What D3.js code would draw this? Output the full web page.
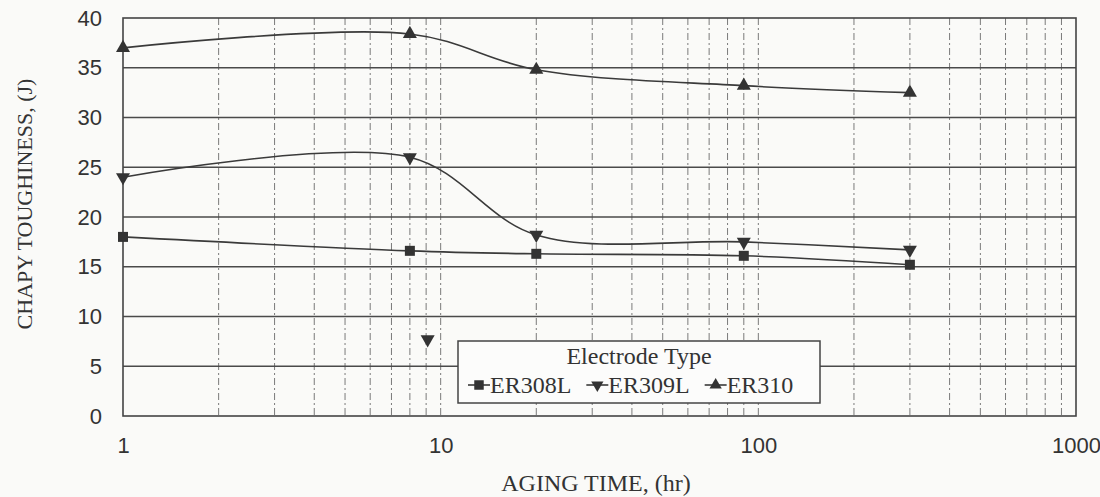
<!DOCTYPE html>
<html>
<head>
<meta charset="UTF-8">
<title>Charpy toughness vs aging time</title>
<style>
    body { margin: 0; background: #fafaf8; }
    svg { display: block; font-family: 'Liberation Serif', 'Times New Roman', serif; }
    .grid-h line { stroke: #4a4a4a; stroke-width: 1.6; }
    .grid-v line { stroke: #7a7a7a; stroke-width: 1; stroke-dasharray: 7,3,2,3; }
    .frame { fill: none; stroke: #444; stroke-width: 1.6; }
    .tick text { fill: #333; font-size: 22px; }
    .series { fill: none; stroke: #3a3a3a; stroke-width: 1.6; }
    .mark { fill: #333; }
    .legend rect { fill: #fcfcfb; stroke: #444; stroke-width: 1.5; }
    .legend text { fill: #333; font-size: 24px; }
    .title { fill: #333; font-size: 22px; }
    .xtitle { font-size: 24px; }
</style>
</head>
<body>
<script src="https://cdn.jsdelivr.net/npm/d3@7"></script>
<script>
    // data
    var agingHours = [1, 8, 20, 90, 300];
    var er308L = [18.0, 16.6, 16.3, 16.1, 15.2];
    var er309L = [24.0, 26.0, 18.2, 17.5, 16.7];
    var er310 = [37.0, 38.4, 34.8, 33.2, 32.5];
    // stray ER309L point plotted with no line
    var er309LExtraX = [9.1];
    var er309LExtraY = [7.7];

    var seriesNames = ["ER308L", "ER309L", "ER310"];
    var seriesValues = [er308L, er309L, er310];
    var seriesShapes = [d3.symbolSquare, "down", d3.symbolTriangle];

    var yTicks = [0, 5, 10, 15, 20, 25, 30, 35, 40];
    var xTicks = [1, 10, 100, 1000];

    var width = 1100, height = 497;
    var margin = { top: 18, right: 24, bottom: 81, left: 123 };
    var w = width - margin.left - margin.right,
        h = height - margin.top - margin.bottom;

    var svg = d3.select("body").append("svg")
        .attr("width", width)
        .attr("height", height);

    var g = svg.append("g")
        .attr("transform", "translate(" + margin.left + "," + margin.top + ")");

    var x = d3.scaleLog().domain([1, 1000]).range([0, w]);
    var y = d3.scaleLinear().domain([0, 40]).range([h, 0]);

    // vertical dashed grid at every log tick
    var minorTicks = x.ticks();
    g.append("g").attr("class", "grid-v")
        .selectAll("line")
        .data(minorTicks.filter(function(d) { return d > 1 && d < 1000; }))
        .enter().append("line")
        .attr("x1", function(d) { return x(d); })
        .attr("x2", function(d) { return x(d); })
        .attr("y1", 0)
        .attr("y2", h);

    // horizontal solid grid
    g.append("g").attr("class", "grid-h")
        .selectAll("line")
        .data(yTicks.filter(function(d) { return d > 0 && d < 40; }))
        .enter().append("line")
        .attr("x1", 0)
        .attr("x2", w)
        .attr("y1", function(d) { return y(d); })
        .attr("y2", function(d) { return y(d); });

    g.append("rect").attr("class", "frame")
        .attr("width", w).attr("height", h);

    // axes (labels only)
    var yAxis = g.append("g")
        .call(d3.axisLeft(y).tickValues(yTicks).tickSize(0).tickPadding(21));
    yAxis.select(".domain").remove();

    var xAxis = g.append("g")
        .attr("transform", "translate(0," + h + ")")
        .call(d3.axisBottom(x).tickValues(xTicks).tickFormat(d3.format("d")).tickSize(0).tickPadding(21));
    xAxis.select(".domain").remove();

    // smooth lines
    var line = d3.line()
        .x(function(d) { return x(d[0]); })
        .y(function(d) { return y(d[1]); })
        .curve(d3.curveCatmullRom.alpha(0.5));

    function symbolPath(shape, size) {
        if (shape === "down") {
            return d3.symbol().type(d3.symbolTriangle).size(size)();
        }
        return d3.symbol().type(shape).size(size)();
    }
    function symbolRotate(shape) {
        return shape === "down" ? " rotate(180)" : "";
    }

    seriesValues.forEach(function(vals, i) {
        var pts = d3.zip(agingHours, vals);
        g.append("path").attr("class", "series").attr("d", line(pts));
        g.selectAll(".m" + i)
            .data(pts)
            .enter().append("path")
            .attr("class", "mark m" + i)
            .attr("d", symbolPath(seriesShapes[i], seriesShapes[i] === d3.symbolSquare ? 100 : 85))
            .attr("transform", function(d) {
                return "translate(" + x(d[0]) + "," + y(d[1]) + ")" + symbolRotate(seriesShapes[i]);
            });
    });

    g.selectAll(".extra")
        .data(d3.zip(er309LExtraX, er309LExtraY))
        .enter().append("path")
        .attr("class", "mark extra")
        .attr("d", symbolPath("down", 85))
        .attr("transform", function(d) {
            return "translate(" + x(d[0]) + "," + y(d[1]) + ") rotate(180)";
        });

    // legend
    var legend = g.append("g").attr("class", "legend")
        .attr("transform", "translate(" + (458 - margin.left) + "," + (341 - margin.top) + ")");
    legend.append("rect").attr("width", 362).attr("height", 62);
    legend.append("text")
        .attr("x", 181).attr("y", 23)
        .attr("text-anchor", "middle")
        .text("Electrode Type");

    var lx = 10;
    seriesNames.forEach(function(name, i) {
        var item = legend.append("g").attr("transform", "translate(" + lx + ",44)");
        item.append("line")
            .attr("x1", 0).attr("x2", 22).attr("y1", 0).attr("y2", 0)
            .attr("stroke", "#3a3a3a").attr("stroke-width", 1.6);
        item.append("path")
            .attr("class", "mark")
            .attr("d", symbolPath(seriesShapes[i], seriesShapes[i] === d3.symbolSquare ? 90 : 65))
            .attr("transform", "translate(11,0)" + symbolRotate(seriesShapes[i]));
        var t = item.append("text")
            .attr("x", 22).attr("y", 8)
            .text(name);
        lx += 22 + t.node().getComputedTextLength() + 15;
    });

    // axis titles
    svg.append("text").attr("class", "title xtitle")
        .attr("x", 596).attr("y", 491)
        .attr("text-anchor", "middle")
        .text("AGING  TIME, (hr)");

    svg.append("text").attr("class", "title")
        .attr("transform", "translate(32,204) rotate(-90)")
        .attr("text-anchor", "middle")
        .text("CHAPY TOUGHINESS, (J)");
</script>
</body>
</html>
